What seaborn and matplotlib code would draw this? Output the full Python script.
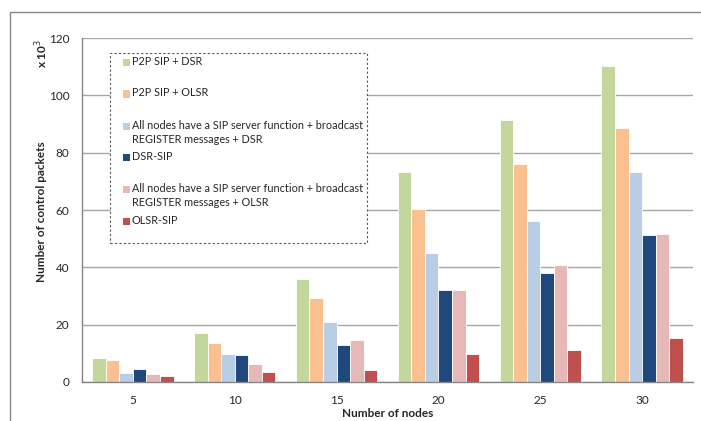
import pandas as pd
import matplotlib
matplotlib.use("Agg")
from matplotlib import pyplot as plt
from matplotlib.patches import Rectangle
from matplotlib.ticker import FixedLocator
import seaborn as sns

nodes = ["5", "10", "15", "20", "25", "30"]
schemes = [
    "P2P SIP + DSR",
    "P2P SIP + OLSR",
    "All nodes have a SIP server function + broadcast\nREGISTER messages + DSR",
    "DSR-SIP",
    "All nodes have a SIP server function + broadcast\nREGISTER messages + OLSR",
    "OLSR-SIP",
]
p2p_dsr = [8.2, 17.0, 35.9, 73.2, 91.4, 110.1]
p2p_olsr = [7.8, 13.5, 29.3, 60.3, 76.0, 88.6]
all_dsr = [3.1, 9.8, 20.9, 45.0, 56.2, 73.1]
dsr_sip = [4.5, 9.3, 12.8, 32.0, 37.9, 51.2]
all_olsr = [2.7, 6.4, 14.5, 32.0, 40.8, 51.6]
olsr_sip = [2.1, 3.5, 4.2, 9.8, 11.0, 15.2]
colors = ["#C3D69B", "#FAC090", "#B9CDE5", "#1F497D", "#E6B9B8", "#C0504D"]

series = [p2p_dsr, p2p_olsr, all_dsr, dsr_sip, all_olsr, olsr_sip]
rows = []
for scheme, values in zip(schemes, series):
    for n, v in zip(nodes, values):
        rows.append({"nodes": n, "packets": v, "scheme": scheme})
df = pd.DataFrame(rows)

sns.set_style("white")
plt.rcParams["font.family"] = ["Lato", "DejaVu Sans"]

W, H = 701, 421
fig = plt.figure(figsize=(W / 100, H / 100), dpi=100)
ax = fig.add_axes([82 / W, 1 - 382 / H, (693 - 82) / W, (382 - 38) / H])

sns.barplot(data=df, x="nodes", y="packets", hue="scheme", order=nodes,
            hue_order=schemes, palette=colors, width=0.8, edgecolor="white",
            linewidth=0.6, saturation=1, legend=False, ax=ax)

ax.set_ylim(0, 120)
ax.set_xlim(-0.5, len(nodes) - 0.5)
ax.set_yticks(range(0, 121, 20))
ax.yaxis.grid(True, color="#a6a6a6", linewidth=1)
ax.set_axisbelow(True)
for side in ["top", "right"]:
    ax.spines[side].set_visible(False)
for side in ["left", "bottom"]:
    ax.spines[side].set_color("#868686")
    ax.spines[side].set_linewidth(1)

ax.tick_params(axis="y", length=4, width=1, color="#868686", pad=5, labelsize=8.5)
ax.tick_params(axis="x", which="major", length=0, pad=9, labelsize=8.5)
ax.xaxis.set_minor_locator(FixedLocator([i - 0.5 for i in range(len(nodes) + 1)]))
ax.tick_params(axis="x", which="minor", length=4, width=1, color="#868686")

ax.set_xlabel("Number of nodes", fontsize=8.5, fontweight="bold", labelpad=2)
ax.set_ylabel("")
fig.text(42 / W, 1 - 212 / H, "Number of control packets", rotation=90,
         ha="center", va="center", fontsize=8.5, fontweight="bold")
fig.text(42 / W, 1 - 53 / H, r"x 10$^3$", rotation=90, ha="center",
         va="center", fontsize=8.5, fontweight="bold")

# outer chart border
fig.patches.append(Rectangle((9.5 / W, -0.1), 1.2, (H - 11.5) / H + 0.1,
                             transform=fig.transFigure, fill=False,
                             edgecolor="#868686", linewidth=1))

# legend drawn by hand to copy the Excel slot layout
fig.patches.append(Rectangle((110 / W, 1 - 243 / H), (367 - 110) / W, (243 - 53) / H,
                             transform=fig.transFigure, facecolor="white",
                             edgecolor="#555555", linewidth=0.8, linestyle=(0, (2, 2)),
                             zorder=5))
legend_y = [62.5, 94, 126.5, 157.5, 189.5, 221.5]
for label, color, y in zip(schemes, colors, legend_y):
    fig.patches.append(Rectangle((123 / W, 1 - (y + 3.5) / H), 7 / W, 7 / H,
                                 transform=fig.transFigure, facecolor=color,
                                 edgecolor="none", zorder=6))
    fig.text(132 / W, 1 - (y - 6.5) / H, label, ha="left", va="top",
             fontsize=7.8, linespacing=1.35, zorder=6)

fig.savefig("out.png", dpi=100)
